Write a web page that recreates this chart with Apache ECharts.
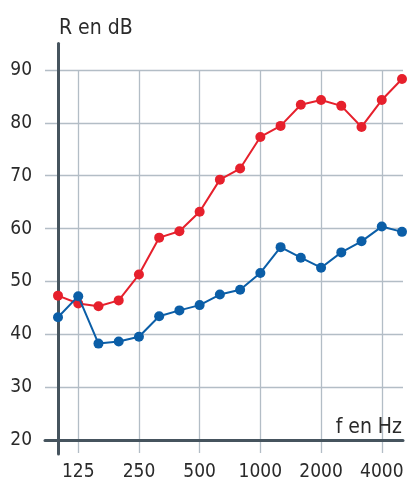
<!DOCTYPE html>
<html>
<head>
<meta charset="utf-8">
<script src="https://cdn.jsdelivr.net/npm/echarts@6/dist/echarts.min.js"></script>
<style>
html,body{margin:0;padding:0;background:#fff;}
#chart{width:410px;height:482px;}
</style>
</head>
<body>
<div id="chart"></div>
<script>
// Third-octave band centre frequencies (Hz)
var frequencies = ['100','125','160','200','250','315','400','500','630','800','1000','1250','1600','2000','2500','3150','4000','5000'];
// Labelled frequencies on the x axis
var xTickLabels = ['125','250','500','1000','2000','4000'];
// Red curve (R en dB)
var redValues = [47.2,45.7,45.2,46.3,51.2,58.2,59.4,63.1,69.2,71.3,77.3,79.4,83.4,84.3,83.2,79.2,84.3,88.3];
// Blue curve (R en dB)
var blueValues = [43.1,47.1,38.1,38.5,39.4,43.3,44.4,45.4,47.4,48.3,51.5,56.4,54.4,52.5,55.4,57.5,60.3,59.3];
// Y tick range
var yTickMin = 20, yTickMax = 90, yTickStep = 10;
var yAxisLineMin = 17.35, yAxisLineMax = 95;

var FONT = '"Liberation Sans Narrow", "DejaVu Sans Condensed", "Liberation Sans", sans-serif';
var GRID_COLOR = '#b3bdc6';
var DARK = '#46545e';
var TEXT = '#2a2a2a';
var RED = '#e6202c';
var BLUE = '#0b5ea7';

function isLabelled(idx){ return xTickLabels.indexOf(frequencies[idx]) >= 0; }

var chart = echarts.init(document.getElementById('chart'), null, {renderer:'canvas'});
chart.setOption({
  animation: false,
  backgroundColor: '#ffffff',
  title: [
    {text: 'R en dB', left: 54, top: 13, textStyle: {fontFamily: FONT, fontSize: 21, fontWeight: 'normal', color: TEXT}},
    {text: 'f en Hz', right: 3, top: 412, textStyle: {fontFamily: FONT, fontSize: 21, fontWeight: 'normal', color: TEXT}}
  ],
  grid: [
    {left: 45, right: 7, top: 70, bottom: 42},     // horizontal gridlines, y labels, x axis line
    {left: 58, right: 8, top: 70, bottom: 28},     // data, vertical gridlines, x labels
    {left: 58, right: 8, top: 43.6, bottom: 28}    // y axis line
  ],
  xAxis: [
    {gridIndex: 0, type: 'value', min: 0, max: 1, axisLine: {show: true, onZero: false, lineStyle: {color: DARK, width: 3}},
     axisTick: {show: false}, axisLabel: {show: false}, splitLine: {show: false}},
    {gridIndex: 1, type: 'category', data: frequencies, boundaryGap: false,
     axisLine: {show: false}, axisTick: {show: false},
     axisLabel: {interval: function(i){return isLabelled(i);}, margin: 10, fontFamily: FONT, fontSize: 19, color: TEXT},
     splitLine: {show: true, interval: function(i){return isLabelled(i);}, lineStyle: {color: GRID_COLOR, width: 1.3}}},
    {gridIndex: 2, type: 'category', data: frequencies, boundaryGap: false, show: false}
  ],
  yAxis: [
    {gridIndex: 0, type: 'value', min: yTickMin, max: yTickMax, interval: yTickStep,
     axisLine: {show: false}, axisTick: {show: false},
     axisLabel: {margin: 13, fontFamily: FONT, fontSize: 19, color: TEXT},
     splitLine: {show: true, lineStyle: {color: GRID_COLOR, width: 1.3}}},
    {gridIndex: 1, type: 'value', min: yAxisLineMin, max: yTickMax, show: false},
    {gridIndex: 2, type: 'value', min: yAxisLineMin, max: yAxisLineMax,
     axisLine: {show: true, onZero: false, lineStyle: {color: DARK, width: 3}},
     axisTick: {show: false}, axisLabel: {show: false}, splitLine: {show: false}}
  ],
  series: [
    {name: 'rouge', type: 'line', xAxisIndex: 1, yAxisIndex: 1, data: redValues,
     symbol: 'circle', symbolSize: 10, itemStyle: {color: RED}, lineStyle: {color: RED, width: 2}, z: 5},
    {name: 'bleu', type: 'line', xAxisIndex: 1, yAxisIndex: 1, data: blueValues,
     symbol: 'circle', symbolSize: 10, itemStyle: {color: BLUE}, lineStyle: {color: BLUE, width: 2}, z: 6}
  ]
});
</script>
</body>
</html>
